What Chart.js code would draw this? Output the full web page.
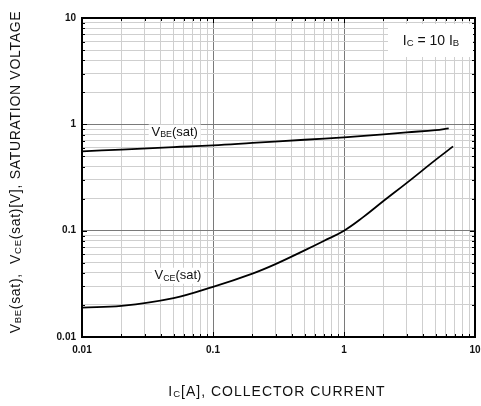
<!DOCTYPE html>
<html>
<head>
<meta charset="utf-8">
<script src="https://cdn.jsdelivr.net/npm/chart.js@4.4.0/dist/chart.umd.min.js"></script>
<style>
  html, body { margin: 0; padding: 0; background: #fff; }
  #wrap { width: 481px; height: 406px; }
</style>
</head>
<body>
<div id="wrap"><canvas id="satChart" width="481" height="406"></canvas></div>
<script>
// collector current [A]
var vbeCurrent = [0.01, 0.02, 0.05, 0.1, 0.2, 0.5, 1, 2, 3, 5, 6.3];
var vbeSat = [0.557, 0.579, 0.61, 0.634, 0.668, 0.716, 0.755, 0.805, 0.84, 0.883, 0.917];

var vceCurrent = [0.01, 0.02, 0.05, 0.1, 0.2, 0.3, 0.5, 0.7, 1, 1.4, 2, 3, 5, 6.8];
var vceSat = [0.0189, 0.0196, 0.0232, 0.0296, 0.0395, 0.0485, 0.0653, 0.08, 0.1, 0.134, 0.19, 0.28, 0.463, 0.62];

var xTickLabels = ["0.01", "0.1", "1", "10"];
var yTickLabels = ["0.01", "0.1", "1", "10"];

function toPoints(xs, ys) {
    var pts = [];
    for (var i = 0; i < xs.length; i++) {
        pts.push({ x: xs[i], y: ys[i] });
    }
    return pts;
}

// 1..9 x 10^n between min and max
function logTicks(min, max) {
    var out = [];
    for (var e = Math.round(Math.log10(min)); e < Math.round(Math.log10(max)); e++) {
        for (var m = 1; m < 10; m++) {
            out.push({ value: m * Math.pow(10, e) });
        }
    }
    out.push({ value: max });
    return out;
}

function isMajor(v) {
    var l = Math.log10(v);
    return Math.abs(l - Math.round(l)) < 1e-6;
}

function labelFor(v, labels) {
    if (!isMajor(v)) return "";
    var s = String(parseFloat(v.toPrecision(3)));
    return labels.indexOf(s) >= 0 ? s : "";
}

// text with a subscript, e.g. V + BE + (sat)
function drawSub(ctx, parts, x, y, size, align, spacing) {
    ctx.letterSpacing = (spacing || 0) + "px";
    var w = 0;
    parts.forEach(function (p) {
        ctx.font = (p.sub ? size * 0.68 : size) + "px 'Liberation Sans', Arial, sans-serif";
        w += ctx.measureText(p.t).width;
    });
    var cx = x;
    if (align === "center") cx = x - w / 2;
    parts.forEach(function (p) {
        ctx.font = (p.sub ? size * 0.68 : size) + "px 'Liberation Sans', Arial, sans-serif";
        ctx.fillText(p.t, cx, p.sub ? y + size * 0.2 : y);
        cx += ctx.measureText(p.t).width;
    });
    ctx.letterSpacing = "0px";
    return w;
}

var overlay = {
    id: "overlay",
    afterDraw: function (chart) {
        var ctx = chart.ctx;
        var a = chart.chartArea;
        var xs = chart.scales.x, ys = chart.scales.y;
        ctx.save();

        // inward tick marks
        ctx.strokeStyle = "#000";
        ctx.lineWidth = 1;
        xs.ticks.forEach(function (t) {
            var px = Math.round(xs.getPixelForValue(t.value)) + 0.5;
            var len = isMajor(t.value) ? 5 : 3;
            ctx.beginPath();
            ctx.moveTo(px, a.top); ctx.lineTo(px, a.top + len);
            ctx.moveTo(px, a.bottom); ctx.lineTo(px, a.bottom - len);
            ctx.stroke();
        });
        ys.ticks.forEach(function (t) {
            var py = Math.round(ys.getPixelForValue(t.value)) + 0.5;
            var len = isMajor(t.value) ? 5 : 3;
            ctx.beginPath();
            ctx.moveTo(a.left, py); ctx.lineTo(a.left + len, py);
            ctx.moveTo(a.right, py); ctx.lineTo(a.right - len, py);
            ctx.stroke();
        });

        // frame
        ctx.lineWidth = 2;
        ctx.strokeRect(a.left, a.top, a.right - a.left, a.bottom - a.top);

        ctx.textBaseline = "middle";
        ctx.textAlign = "left";

        // IC = 10 IB box
        ctx.fillStyle = "#fff";
        ctx.fillRect(a.right - 87, a.top + 6, 85, 33);
        ctx.fillStyle = "#111";
        drawSub(ctx, [{ t: "I" }, { t: "C", sub: true }, { t: " = 10 I" }, { t: "B", sub: true }], a.right - 44, a.top + 23, 14, "center");

        // curve labels
        var bx = xs.getPixelForValue(0.051), by = ys.getPixelForValue(0.84);
        ctx.fillStyle = "#fff";
        ctx.fillRect(bx - 26, by - 8, 52, 16);
        ctx.fillStyle = "#111";
        drawSub(ctx, [{ t: "V" }, { t: "BE", sub: true }, { t: "(sat)" }], bx, by, 13, "center");

        var cx = xs.getPixelForValue(0.054), cy = ys.getPixelForValue(0.0377);
        ctx.fillStyle = "#fff";
        ctx.fillRect(cx - 26, cy - 8, 52, 16);
        ctx.fillStyle = "#111";
        drawSub(ctx, [{ t: "V" }, { t: "CE", sub: true }, { t: "(sat)" }], cx, cy, 13, "center");

        // axis titles
        drawSub(ctx, [{ t: "I" }, { t: "C", sub: true }, { t: "[A], COLLECTOR CURRENT" }], 277, 392, 14, "center", 1);

        ctx.save();
        ctx.translate(16, 172);
        ctx.rotate(-Math.PI / 2);
        drawSub(ctx, [{ t: "V" }, { t: "BE", sub: true }, { t: "(sat),  V" }, { t: "CE", sub: true }, { t: "(sat)[V], SATURATION VOLTAGE" }], 0, 0, 14, "center", 0.7);
        ctx.restore();

        ctx.restore();
    }
};

var ctx = document.getElementById("satChart").getContext("2d");
var myChart = new Chart(ctx, {
    type: "line",
    data: {
        datasets: [
            {
                label: "VBE(sat)",
                data: toPoints(vbeCurrent, vbeSat),
                borderColor: "#000",
                borderWidth: 1.8,
                pointRadius: 0,
                tension: 0.4,
                fill: false
            },
            {
                label: "VCE(sat)",
                data: toPoints(vceCurrent, vceSat),
                borderColor: "#000",
                borderWidth: 1.8,
                pointRadius: 0,
                tension: 0.4,
                fill: false
            }
        ]
    },
    plugins: [overlay],
    options: {
        responsive: false,
        animation: false,
        layout: { padding: { left: 0, top: 18, right: 6, bottom: 0 } },
        plugins: {
            legend: { display: false },
            tooltip: { enabled: false }
        },
        scales: {
            x: {
                type: "logarithmic",
                min: 0.01,
                max: 10,
                afterBuildTicks: function (s) { s.ticks = logTicks(0.01, 10); },
                afterFit: function (s) { s.height = 69; s.paddingLeft = 0; s.paddingRight = 0; },
                grid: {
                    drawTicks: false,
                    color: function (c) { return c.tick && isMajor(c.tick.value) ? "#7a7a7a" : "#cfcfcf"; },
                    lineWidth: 1
                },
                border: { display: false },
                ticks: {
                    autoSkip: false,
                    maxRotation: 0,
                    padding: 7,
                    color: "#111",
                    font: { family: "'Liberation Sans', Arial, sans-serif", size: 10, weight: "bold" },
                    callback: function (v) { return labelFor(v, xTickLabels); }
                }
            },
            y: {
                type: "logarithmic",
                min: 0.01,
                max: 10,
                afterBuildTicks: function (s) { s.ticks = logTicks(0.01, 10); },
                afterFit: function (s) { s.width = 82; s.paddingTop = 0; s.paddingBottom = 0; },
                grid: {
                    drawTicks: false,
                    color: function (c) { return c.tick && isMajor(c.tick.value) ? "#7a7a7a" : "#cfcfcf"; },
                    lineWidth: 1
                },
                border: { display: false },
                ticks: {
                    autoSkip: false,
                    padding: 6,
                    color: "#111",
                    font: { family: "'Liberation Sans', Arial, sans-serif", size: 10, weight: "bold" },
                    callback: function (v) { return labelFor(v, yTickLabels); }
                }
            }
        }
    }
});
</script>
</body>
</html>
